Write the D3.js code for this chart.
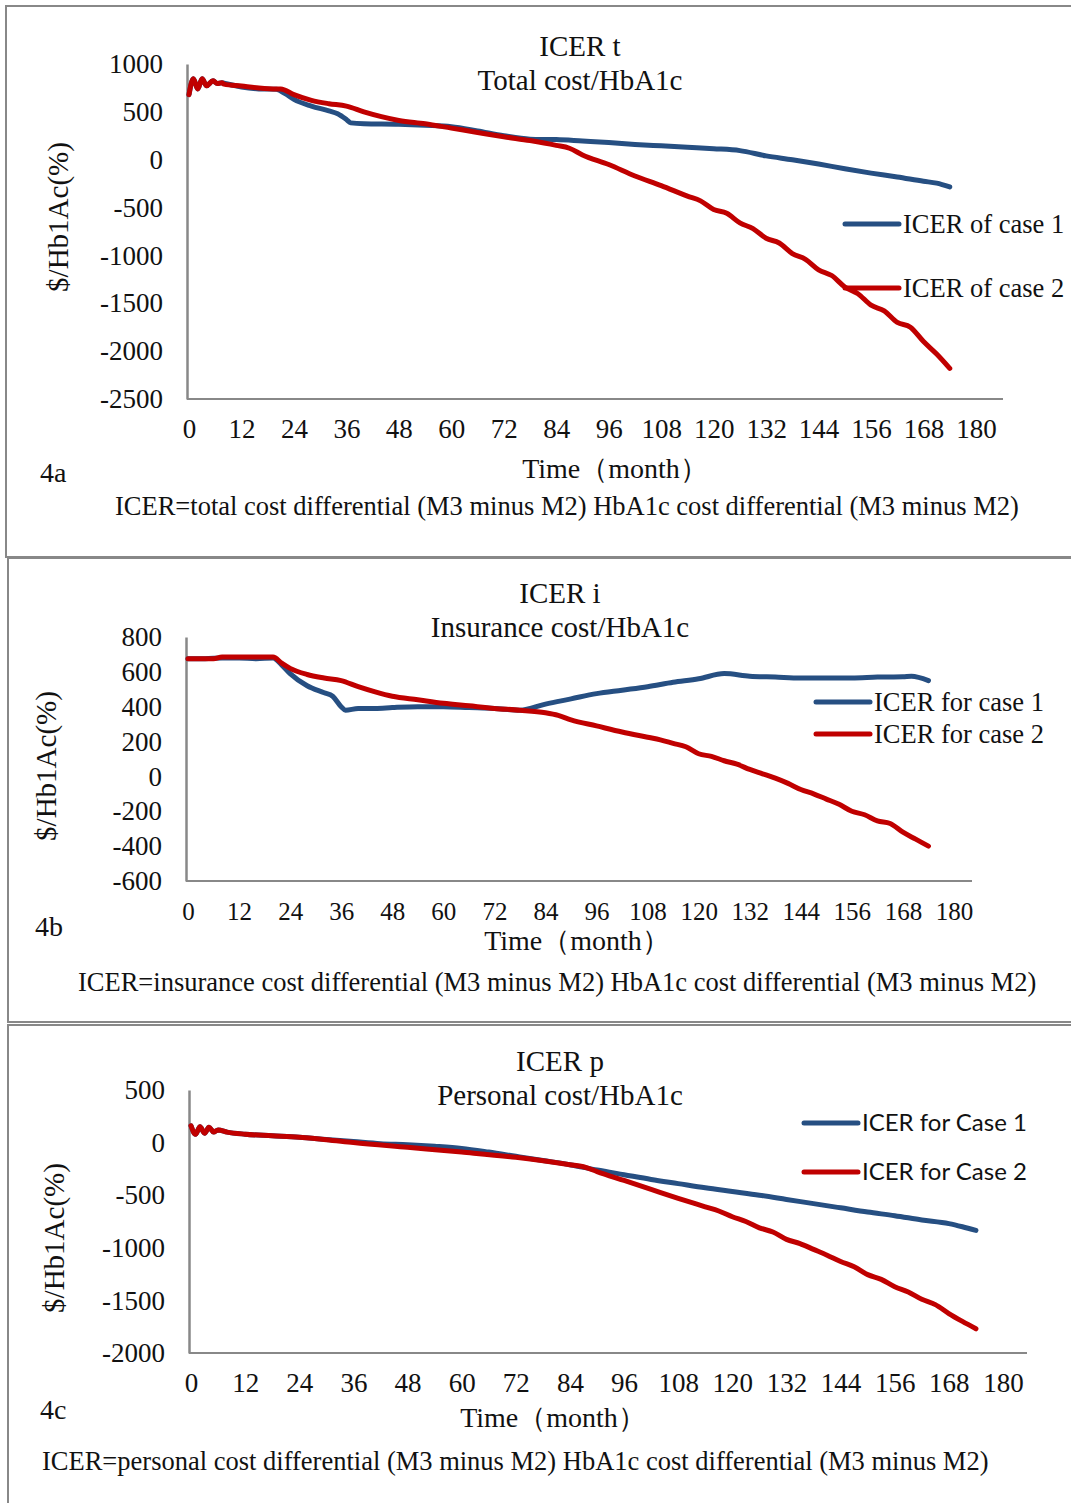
<!DOCTYPE html>
<html>
<head>
<meta charset="utf-8">
<title>ICER charts</title>
<style>
  body { margin: 0; background: #fff; }
  text { font-family: "Liberation Serif", "Times New Roman", serif; fill: #111; }
</style>
</head>
<body>
<script src="https://cdn.jsdelivr.net/npm/d3@7"></script>
<script>
// ---- data ----
var xTicks = [0, 12, 24, 36, 48, 60, 72, 84, 96, 108, 120, 132, 144, 156, 168, 180];

// 4a: total cost / HbA1c
var tMonths1 = [0, 1, 2, 3, 4, 5.5, 6.5, 7.5, 8, 12, 16, 20, 22, 24, 28, 32, 34, 36, 37, 40, 48, 54, 60, 66, 72, 78, 84, 90, 96, 102, 108, 114, 120, 126, 132, 138, 144, 150, 156, 162, 168, 171, 174];
var tCase1 = [680, 846, 740, 846, 773, 825, 795, 805, 800, 760, 740, 735, 690, 630, 560, 510, 480, 420, 385, 375, 370, 360, 345, 300, 250, 215, 210, 195, 180, 160, 145, 130, 115, 95, 40, 0, -45, -95, -140, -180, -225, -245, -285];
var tMonths2 = [0, 1, 2, 3, 4, 5.5, 6.5, 7.5, 8, 12, 16, 20, 21, 24, 28, 32, 36, 40, 44, 48, 54, 60, 66, 72, 78, 84, 87, 90, 96, 102, 108, 114, 117, 120, 123, 126, 129, 132, 135, 138, 141, 144, 147, 150, 153, 156, 159, 162, 165, 168, 171, 174];
var tCase2 = [680, 846, 740, 846, 773, 825, 795, 805, 790, 770, 750, 740, 740, 680, 620, 585, 560, 500, 450, 410, 375, 330, 285, 240, 200, 150, 120, 50, -50, -170, -270, -380, -430, -520, -560, -660, -720, -820, -870, -980, -1040, -1150, -1210, -1330, -1400, -1520, -1580, -1700, -1750, -1900, -2030, -2180];

// 4b: insurance cost / HbA1c
var iMonths1 = [0, 4, 8, 12, 16, 20, 22, 24, 28, 32, 34, 36, 37, 40, 44, 48, 54, 60, 66, 72, 78, 84, 90, 96, 102, 108, 114, 120, 126, 132, 138, 144, 150, 156, 162, 168, 170, 174];
var iCase1 = [675, 675, 680, 680, 675, 680, 640, 590, 520, 480, 460, 400, 380, 390, 390, 395, 400, 400, 395, 390, 380, 415, 445, 475, 495, 515, 540, 560, 590, 575, 570, 565, 565, 565, 570, 572, 575, 550];
var iMonths2 = [0, 6, 8, 20, 22, 24, 28, 32, 36, 40, 44, 48, 54, 60, 66, 72, 78, 84, 87, 90, 96, 102, 108, 111, 114, 117, 120, 123, 126, 129, 132, 135, 138, 141, 144, 147, 150, 153, 156, 159, 162, 165, 168, 171, 174];
var iCase2 = [675, 675, 685, 685, 650, 620, 585, 565, 550, 515, 485, 460, 440, 420, 405, 390, 380, 365, 350, 325, 290, 255, 225, 210, 190, 170, 130, 115, 90, 70, 40, 15, -10, -40, -75, -100, -130, -160, -200, -220, -255, -270, -320, -360, -400];

// 4c: personal cost / HbA1c
var pMonths1 = [0, 1, 2, 3, 4, 5, 6, 8, 12, 18, 24, 30, 36, 42, 48, 54, 60, 66, 72, 78, 84, 90, 96, 102, 108, 114, 120, 126, 132, 138, 144, 150, 156, 162, 168, 171, 174];
var pCase1 = [160, 80, 150, 90, 145, 100, 120, 100, 80, 65, 50, 30, 10, -10, -20, -35, -55, -90, -130, -170, -210, -260, -305, -350, -390, -430, -465, -500, -540, -580, -620, -660, -695, -735, -770, -800, -835];
var pMonths2 = [0, 1, 2, 3, 4, 5, 6, 8, 12, 18, 24, 30, 36, 48, 60, 72, 84, 87, 90, 96, 102, 108, 114, 117, 120, 123, 126, 129, 132, 135, 138, 141, 144, 147, 150, 153, 156, 159, 162, 165, 168, 171, 174];
var pCase2 = [160, 80, 150, 90, 145, 100, 120, 100, 80, 65, 50, 28, 0, -45, -90, -140, -210, -230, -275, -360, -445, -530, -610, -650, -705, -750, -810, -850, -920, -960, -1015, -1070, -1130, -1180, -1255, -1300, -1370, -1420, -1490, -1540, -1625, -1700, -1770];

var blue = "#264f82", red = "#c00000";

var svg = d3.select("body").append("svg")
    .attr("width", 1071)
    .attr("height", 1503);

// panel frames
svg.append("rect").attr("x", 6).attr("y", 6).attr("width", 1080).attr("height", 551)
    .attr("fill", "none").attr("stroke", "#888").attr("stroke-width", 2);
svg.append("rect").attr("x", 8).attr("y", 558).attr("width", 1080).attr("height", 464)
    .attr("fill", "none").attr("stroke", "#888").attr("stroke-width", 2);
svg.append("rect").attr("x", 8).attr("y", 1025).attr("width", 1080).attr("height", 500)
    .attr("fill", "none").attr("stroke", "#888").attr("stroke-width", 2);

var panels = [
    {
        title: ["ICER t", "Total cost/HbA1c"], titleX: 580, titleY: [56, 90],
        yTicks: [1000, 500, 0, -500, -1000, -1500, -2000, -2500],
        yDomain: [-2500, 1000], yRange: [399, 64],
        x0: 189, x180: 976, xEnd: 1003, xTickSize: 27, xTickPad: 20,
        series: [
            {m: tMonths1, v: tCase1, color: blue, name: "ICER of case 1"},
            {m: tMonths2, v: tCase2, color: red, name: "ICER of case 2"}
        ],
        legX: 845, legY: [224, 288], legFont: "serif", legSize: 26.5,
        yLabelX: 58, yLabelY: 217,
        xLabelX: 615, xLabelY: 478,
        tag: "4a", tagX: 40, tagY: 482,
        note: "ICER=total cost differential (M3 minus M2) HbA1c cost differential (M3 minus M2)",
        noteX: 115, noteY: 515
    },
    {
        title: ["ICER i", "Insurance cost/HbA1c"], titleX: 560, titleY: [603, 637],
        yTicks: [800, 600, 400, 200, 0, -200, -400, -600],
        yDomain: [-600, 800], yRange: [881, 637],
        x0: 188, x180: 954, xEnd: 972, xTickSize: 25, xTickPad: 21,
        series: [
            {m: iMonths1, v: iCase1, color: blue, name: "ICER for case 1"},
            {m: iMonths2, v: iCase2, color: red, name: "ICER for case 2"}
        ],
        legX: 816, legY: [702, 734], legFont: "serif", legSize: 26.5,
        yLabelX: 46, yLabelY: 766,
        xLabelX: 577, xLabelY: 950,
        tag: "4b", tagX: 35, tagY: 936,
        note: "ICER=insurance cost differential (M3 minus M2) HbA1c cost differential (M3 minus M2)",
        noteX: 78, noteY: 991
    },
    {
        title: ["ICER p", "Personal cost/HbA1c"], titleX: 560, titleY: [1071, 1105],
        yTicks: [500, 0, -500, -1000, -1500, -2000],
        yDomain: [-2000, 500], yRange: [1353, 1090],
        x0: 191, x180: 1003, xEnd: 1027, xTickSize: 27, xTickPad: 20,
        series: [
            {m: pMonths1, v: pCase1, color: blue, name: "ICER for Case 1"},
            {m: pMonths2, v: pCase2, color: red, name: "ICER for Case 2"}
        ],
        legX: 804, legY: [1123, 1172], legFont: "sans", legSize: 24,
        yLabelX: 54, yLabelY: 1238,
        xLabelX: 553, xLabelY: 1427,
        tag: "4c", tagX: 40, tagY: 1419,
        note: "ICER=personal cost differential (M3 minus M2) HbA1c cost differential (M3 minus M2)",
        noteX: 42, noteY: 1470
    }
];

panels.forEach(function (p) {
    var g = svg.append("g");
    var pxPerMonth = (p.x180 - p.x0) / 180;
    var x = d3.scaleLinear()
        .domain([0, (p.xEnd - p.x0) / pxPerMonth])
        .range([p.x0, p.xEnd]);
    var y = d3.scaleLinear().domain(p.yDomain).range(p.yRange);
    var axisX = p.x0 - 2;

    // y axis (plain hyphen minus like the original)
    var ya = g.append("g")
        .attr("transform", "translate(" + axisX + ",0)")
        .call(d3.axisLeft(y).tickValues(p.yTicks).tickSize(0).tickPadding(24)
            .tickFormat(function (d) { return String(d); }));
    ya.select(".domain").attr("stroke", "#888").attr("stroke-width", 2.5);
    ya.selectAll("text").style("font-family", "Liberation Serif, serif").style("font-size", "27px").attr("fill", "#111");

    // x axis
    var xa = g.append("g")
        .attr("transform", "translate(0," + p.yRange[0] + ")")
        .call(d3.axisBottom(x).tickValues(xTicks).tickSize(0).tickPadding(p.xTickPad)
            .tickFormat(function (d) { return String(d); }));
    xa.select(".domain").attr("stroke", "#888").attr("stroke-width", 2)
        .attr("d", "M" + axisX + ",0H" + p.xEnd);
    xa.selectAll("text").style("font-family", "Liberation Serif, serif").style("font-size", p.xTickSize + "px").attr("fill", "#111");

    // lines
    var line = d3.line()
        .x(function (d) { return x(d[0]); })
        .y(function (d) { return y(d[1]); })
        .curve(d3.curveMonotoneX);
    p.series.forEach(function (s) {
        g.append("path")
            .datum(s.m.map(function (m, i) { return [m, s.v[i]]; }))
            .attr("d", line)
            .attr("fill", "none")
            .attr("stroke", s.color)
            .attr("stroke-width", 5)
            .attr("stroke-linejoin", "round")
            .attr("stroke-linecap", "round");
    });

    // legend
    p.series.forEach(function (s, i) {
        g.append("line")
            .attr("x1", p.legX).attr("x2", p.legX + 54)
            .attr("y1", p.legY[i]).attr("y2", p.legY[i])
            .attr("stroke", s.color).attr("stroke-width", 5).attr("stroke-linecap", "round");
        g.append("text")
            .attr("x", p.legX + 58).attr("y", p.legY[i])
            .attr("dy", "0.35em")
            .style("font-family", p.legFont == "sans" ? "Lato, 'Open Sans', sans-serif" : "Liberation Serif, serif")
            .style("font-size", p.legSize + "px")
            .text(s.name);
    });

    // titles
    p.title.forEach(function (t, i) {
        g.append("text")
            .attr("x", p.titleX).attr("y", p.titleY[i])
            .attr("text-anchor", "middle")
            .style("font-size", "29px")
            .text(t);
    });

    g.append("text")
        .attr("transform", "translate(" + p.yLabelX + "," + p.yLabelY + ") rotate(-90)")
        .attr("text-anchor", "middle")
        .attr("dy", "0.35em")
        .style("font-size", "29px")
        .text("$/Hb1Ac(%)");

    g.append("text")
        .attr("x", p.xLabelX).attr("y", p.xLabelY)
        .attr("text-anchor", "middle")
        .style("font-size", "28px")
        .text("Time（month）");

    g.append("text")
        .attr("x", p.tagX).attr("y", p.tagY)
        .style("font-size", "28px")
        .text(p.tag);

    g.append("text")
        .attr("x", p.noteX).attr("y", p.noteY)
        .style("font-size", "26.5px")
        .text(p.note);
});
</script>
</body>
</html>
